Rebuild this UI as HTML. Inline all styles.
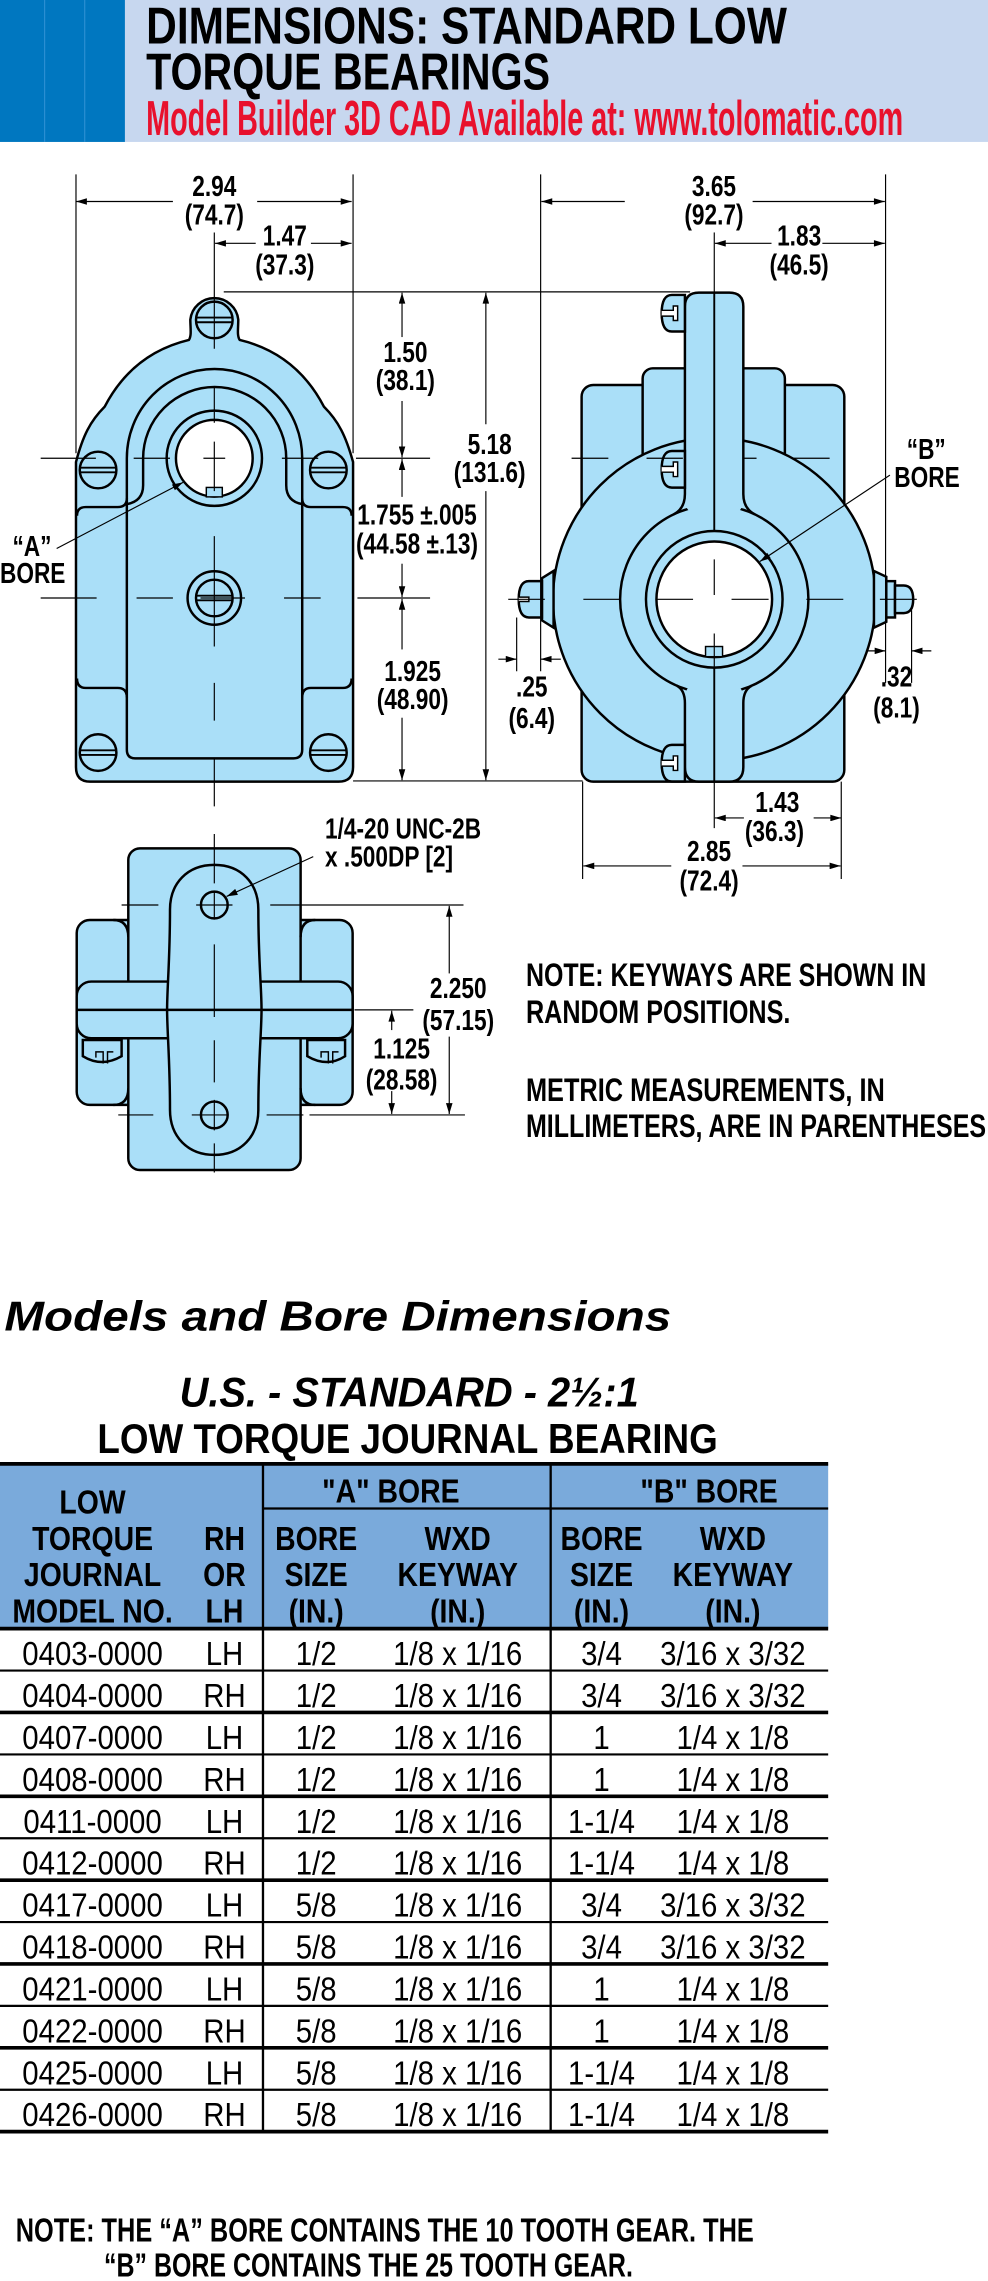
<!DOCTYPE html>
<html><head><meta charset="utf-8"><style>
html,body{margin:0;padding:0;background:#fff}
svg{display:block}
text{font-family:"Liberation Sans",Arial,sans-serif}
.b{font-weight:bold}
.d{font-weight:bold;font-size:19.5px}
.h{font-weight:bold;font-size:23px}
.r{font-size:23px}
.o{fill:#aadff8;stroke:#000;stroke-width:1.7}
.s{fill:none;stroke:#000;stroke-width:1.7}
.t{fill:none;stroke:#000;stroke-width:0.8}
.dm{fill:none;stroke:#000;stroke-width:0.8;marker-end:url(#a)}
</style></head><body>
<svg width="988" height="2281" viewBox="0 0 680 1570" preserveAspectRatio="none" xmlns="http://www.w3.org/2000/svg">
<defs>
<marker id="a" viewBox="0 0 10 6" refX="10" refY="3" markerWidth="8" markerHeight="4.5" orient="auto" markerUnits="userSpaceOnUse"><path d="M0,0 L10,3 L0,6 Z" fill="#000"/></marker>
<g id="scr"><circle r="12.6" class="o"/><line x1="-12" y1="-1.6" x2="12" y2="-1.6" stroke="#000" stroke-width="1.3"/><line x1="-12" y1="1.6" x2="12" y2="1.6" stroke="#000" stroke-width="1.3"/></g>
<g id="bs"><path d="M16 -12.6 L7 -12.6 Q0 -12.6 0 0 Q0 12.6 7 12.6 L16 12.6 Z" class="o"/><path d="M0 -2 L8 -2 L8 -5 L11 -5 L11 5 L8 5 L8 2 L0 2" fill="#fff" stroke="#000" stroke-width="1"/></g>
</defs>

<!-- header -->
<rect x="0" y="0" width="86" height="97.7" fill="#0077c0"/>
<line x1="30.7" y1="0" x2="30.7" y2="97.7" stroke="#2b8fd2" stroke-width="0.8"/>
<line x1="58.3" y1="0" x2="58.3" y2="97.7" stroke="#2b8fd2" stroke-width="0.8"/>
<rect x="86" y="0" width="594" height="97.7" fill="#c7d7ef"/>
<text x="100.6" y="29.9" class="b" font-size="35.5" textLength="441" lengthAdjust="spacingAndGlyphs">DIMENSIONS: STANDARD LOW</text>
<text x="100.6" y="61.5" class="b" font-size="35.5" textLength="278" lengthAdjust="spacingAndGlyphs">TORQUE BEARINGS</text>
<text x="100.6" y="93" class="b" font-size="34" fill="#e8112d" textLength="521" lengthAdjust="spacingAndGlyphs">Model Builder 3D CAD Available at: www.tolomatic.com</text>

<!-- LEFT VIEW -->
<path class="o" d="M52.3 318 C57 300 62 290 72 280 C85 255 105 240 130 234 C132 231 131 226 131 220 A16.6 16.6 0 0 1 164 220 C164 226 163 231 165 234 C190 240 210 255 223 280 C233 290 238 300 243 318 L243 528 Q243 538 233 538 L62 538 Q52.3 538 52.3 528 Z"/>
<path class="s" d="M53 355 Q53 349 59 349 L81 349 Q87.3 349 87.3 343"/>
<path class="s" d="M53 467 Q53 473.5 59 473.5 L81 473.5 Q87.3 473.5 87.3 480"/>
<path class="s" d="M242 355 Q242 349 236 349 L214 349 Q208 349 208 343"/>
<path class="s" d="M242 467 Q242 473.5 236 473.5 L214 473.5 Q208 473.5 208 480"/>
<path class="s" d="M87.3 516 L87.3 315.4 A60.35 61.4 0 0 1 208 315.4 L208 516 Q208 522 202 522 L93 522 Q87.3 522 87.3 516 Z"/>
<path class="s" d="M87.3 347 Q98.5 345 98.5 334 L98.5 315.4 A49.25 49 0 0 1 197 315.4 L197 334 Q197 345 208 347"/>
<circle cx="147.5" cy="315.4" r="32.8" class="o"/>
<circle cx="147.5" cy="315.4" r="26.4" fill="#fff" stroke="#000" stroke-width="1.7"/>
<rect x="142" y="335.5" width="11" height="6.5" fill="#aadff8" stroke="#000" stroke-width="1"/>
<use href="#scr" x="147.5" y="220.2"/>
<use href="#scr" x="67.5" y="323.5"/>
<use href="#scr" x="226" y="323.5"/>
<use href="#scr" x="67.5" y="518"/>
<use href="#scr" x="226" y="518"/>
<circle cx="147.5" cy="411.6" r="18.4" class="o"/>
<use href="#scr" x="147.5" y="411.6"/>
<!-- left centerlines -->
<g class="t">
<path d="M28 315.4H66M92 315.4H117M140 315.4H155M194 315.4H219M245 315.4H296"/>
<path d="M28 411.6H66.5M94 411.6H119M138 411.6H168.6M195.5 411.6H220.7M246 411.6H296"/>
<path d="M147.5 160V240M147.5 267V291M147.5 304V338M147.5 369V445M147.5 470V496M147.5 522V555"/>
<path d="M52.3 120V312M243 120V312"/>
<path d="M154 200.9H475"/>
<path d="M243 537.5H401"/>
</g>
<!-- left dims -->
<line class="dm" x1="119" y1="138.7" x2="52.3" y2="138.7"/>
<line class="dm" x1="177" y1="138.7" x2="242" y2="138.7"/>
<text class="d" text-anchor="middle" transform="translate(147.5 135) scale(.8 1)">2.94</text>
<text class="d" text-anchor="middle" transform="translate(147.5 154.5) scale(.8 1)">(74.7)</text>
<line class="dm" x1="176" y1="167.5" x2="148" y2="167.5"/>
<line class="dm" x1="214" y1="167.5" x2="242" y2="167.5"/>
<text class="d" text-anchor="middle" transform="translate(196 169) scale(.8 1)">1.47</text>
<text class="d" text-anchor="middle" transform="translate(196 189) scale(.8 1)">(37.3)</text>
<line class="dm" x1="276.7" y1="232" x2="276.7" y2="201.5"/>
<line class="dm" x1="276.7" y1="276" x2="276.7" y2="314.8"/>
<text class="d" text-anchor="middle" transform="translate(279 249.3) scale(.8 1)">1.50</text>
<text class="d" text-anchor="middle" transform="translate(279 268.6) scale(.8 1)">(38.1)</text>
<line class="dm" x1="276.7" y1="342" x2="276.7" y2="316"/>
<line class="dm" x1="276.7" y1="388" x2="276.7" y2="411"/>
<text class="d" text-anchor="middle" transform="translate(287 361) scale(.8 1)">1.755 ±.005</text>
<text class="d" text-anchor="middle" transform="translate(287 381) scale(.8 1)">(44.58 ±.13)</text>
<line class="dm" x1="276.7" y1="447" x2="276.7" y2="412.2"/>
<line class="dm" x1="276.7" y1="494" x2="276.7" y2="537"/>
<text class="d" text-anchor="middle" transform="translate(284 468.7) scale(.8 1)">1.925</text>
<text class="d" text-anchor="middle" transform="translate(284 488) scale(.8 1)">(48.90)</text>
<line class="dm" x1="334.4" y1="292" x2="334.4" y2="201.5"/>
<line class="dm" x1="334.4" y1="338" x2="334.4" y2="537"/>
<text class="d" text-anchor="middle" transform="translate(337 312.5) scale(.8 1)">5.18</text>
<text class="d" text-anchor="middle" transform="translate(337 331.8) scale(.8 1)">(131.6)</text>
<text class="d" text-anchor="middle" transform="translate(22 382.8) scale(.8 1)">“A”</text>
<text class="d" text-anchor="middle" transform="translate(22.5 401.4) scale(.8 1)">BORE</text>
<line class="dm" x1="39" y1="377.5" x2="126" y2="332"/>

<!-- RIGHT VIEW -->
<rect x="400.3" y="265" width="180.8" height="273" rx="8" class="o"/>
<rect x="442.3" y="253.5" width="97.9" height="120" rx="7" class="o"/>
<circle cx="491.6" cy="412.5" r="111" class="o"/>
<circle cx="491.6" cy="412.5" r="64.8" class="o"/>
<rect x="471.4" y="201.4" width="40.2" height="153" rx="9.6" fill="#aadff8"/>
<path class="s" d="M463.7 354 Q471.4 350 471.4 340 L471.4 211 Q471.4 201.4 481 201.4 L502 201.4 Q511.6 201.4 511.6 211 L511.6 340 Q511.6 350 519.5 354"/>
<rect x="471.4" y="470" width="40.2" height="68" rx="9.6" fill="#aadff8"/>
<path class="s" d="M465.9 472 Q471.4 475 471.4 484 L471.4 528 Q471.4 538 481 538 L502 538 Q511.6 538 511.6 528 L511.6 484 Q511.6 475 517.3 472"/>
<line x1="491.6" y1="201.4" x2="491.6" y2="538" stroke="#000" stroke-width="1.3"/>
<circle cx="491.6" cy="412.5" r="47" class="o"/>
<circle cx="491.6" cy="412.5" r="39.8" fill="#fff" stroke="#000" stroke-width="1.7"/>
<rect x="485.6" y="445" width="11.7" height="7" fill="#aadff8" stroke="#000" stroke-width="1"/>
<use href="#bs" x="455.4" y="215.6"/>
<use href="#bs" x="455.4" y="323"/>
<use href="#bs" x="455.4" y="525.3"/>
<path class="o" d="M381 393 L373 398 L373 427 L381 432 Z"/>
<path class="o" d="M373 400 L364 400 Q357 400 357 412.5 Q357 425 364 425 L373 425 Z"/>
<path d="M357 411 L364 411 L364 414 L357 414" fill="#fff" stroke="#000" stroke-width="1"/>
<path class="o" d="M601.5 393 L610 397 L610 428 L601.5 432 Z"/>
<rect x="610" y="400" width="6" height="25" class="o"/>
<path class="o" d="M616 403 L622 403 Q628.5 403 628.5 412.5 Q628.5 422 622 422 L616 422 Z"/>
<g class="t">
<path d="M393.4 315.4H418.7M445 315.4H470M512 315.4H520.7M546 315.4H571"/>
<path d="M349.8 412.5H375M401.5 412.5H427M452 412.5H477M503.5 412.5H529M555 412.5H580.4M605.6 412.5H631"/>
<path d="M491.6 385V409.5M491.6 436V460"/>
<path d="M372.1 120V462M609.5 120V470M355.6 425V462M627.4 420V470"/>
<path d="M491.6 160V201"/>
<path d="M401 538V605M579 538V605M491.6 538V570"/>
</g>
<line class="dm" x1="430" y1="138.7" x2="372.6" y2="138.7"/>
<line class="dm" x1="518" y1="138.7" x2="609" y2="138.7"/>
<text class="d" text-anchor="middle" transform="translate(491.4 135) scale(.8 1)">3.65</text>
<text class="d" text-anchor="middle" transform="translate(491.4 154.5) scale(.8 1)">(92.7)</text>
<line class="dm" x1="531" y1="167.5" x2="492" y2="167.5"/>
<line class="dm" x1="566" y1="167.5" x2="609" y2="167.5"/>
<text class="d" text-anchor="middle" transform="translate(550 169) scale(.8 1)">1.83</text>
<text class="d" text-anchor="middle" transform="translate(550 189) scale(.8 1)">(46.5)</text>
<line class="dm" x1="343" y1="453.7" x2="355.6" y2="453.7"/>
<line class="dm" x1="386" y1="453.7" x2="372.1" y2="453.7"/>
<text class="d" text-anchor="middle" transform="translate(366 479.5) scale(.8 1)">.25</text>
<text class="d" text-anchor="middle" transform="translate(366 501) scale(.8 1)">(6.4)</text>
<line class="dm" x1="596" y1="448" x2="609.5" y2="448"/>
<line class="dm" x1="641" y1="448" x2="627.4" y2="448"/>
<text class="d" text-anchor="middle" transform="translate(617 472.5) scale(.8 1)">.32</text>
<text class="d" text-anchor="middle" transform="translate(617 494) scale(.8 1)">(8.1)</text>
<text class="d" text-anchor="middle" transform="translate(637.5 316) scale(.8 1)">“B”</text>
<text class="d" text-anchor="middle" transform="translate(638 335.3) scale(.8 1)">BORE</text>
<line class="dm" x1="612.5" y1="327" x2="523" y2="386.5"/>
<line class="dm" x1="512" y1="563" x2="492" y2="563"/>
<line class="dm" x1="560" y1="563" x2="579" y2="563"/>
<text class="d" text-anchor="middle" transform="translate(535 559) scale(.8 1)">1.43</text>
<text class="d" text-anchor="middle" transform="translate(533 578.7) scale(.8 1)">(36.3)</text>
<line class="dm" x1="462" y1="596" x2="401.5" y2="596"/>
<line class="dm" x1="511" y1="596" x2="578.5" y2="596"/>
<text class="d" text-anchor="middle" transform="translate(488 592.6) scale(.8 1)">2.85</text>
<text class="d" text-anchor="middle" transform="translate(488 613) scale(.8 1)">(72.4)</text>

<!-- BOTTOM VIEW -->
<rect x="52.8" y="633.2" width="189.9" height="127.3" rx="9" class="o"/>
<rect x="88.3" y="583.9" width="118.6" height="221.4" rx="8" class="o"/>
<path class="s" d="M88.3 645 Q88.3 633.2 78 633.2 M206.9 645 Q206.9 633.2 217 633.2 M88.3 749 Q88.3 760.5 78 760.5 M206.9 749 Q206.9 760.5 217 760.5"/>
<rect x="52.8" y="675.6" width="189.9" height="39" rx="10" class="o"/>
<path class="o" d="M57 715.8 L57 727 Q70 735 83.7 727 L83.7 715.8 Z"/>
<path class="o" d="M211.5 715.8 L211.5 727 Q225 735 237.5 727 L237.5 715.8 Z"/>
<path class="s" style="stroke-width:1" d="M66 728 V724 H71 V732 M74 732 V724 H78 M221 728 V724 H226 V732 M229 732 V724 H233"/>
<path class="o" d="M147.5 595.3 C166 595.3 177.8 608 177.8 626 C177.8 660 180 680 180 695 C180 710 177.8 730 177.8 764 C177.8 782 166 794.9 147.5 794.9 C129 794.9 117 782 117 764 C117 730 115 710 115 695 C115 680 117 660 117 626 C117 608 129 595.3 147.5 595.3 Z"/>
<line x1="52.8" y1="695.1" x2="242.7" y2="695.1" stroke="#000" stroke-width="1.7"/>
<circle cx="147.5" cy="622.9" r="9.2" class="o"/>
<circle cx="147.5" cy="767.4" r="9.2" class="o"/>
<g class="t">
<path d="M147.5 574V608M147.5 614V633M147.5 650V700M147.5 716V745M147.5 757V778M147.5 787V807"/>
<path d="M83.7 622.9H109M135 622.9H160M186 622.9H319"/>
<path d="M81.4 767.4H105.5M132 767.4H157M183.5 767.4H208.8M213 767.4H320"/>
<path d="M244 695.1H284.5"/>
</g>
<text class="d" transform="translate(223.7 577) scale(.8 1)">1/4-20 UNC-2B</text>
<text class="d" transform="translate(223.7 596.5) scale(.8 1)">x .500DP [2]</text>
<line class="dm" x1="215.6" y1="589.6" x2="156" y2="617"/>
<line class="dm" x1="309.2" y1="670" x2="309.2" y2="623.5"/>
<line class="dm" x1="309.2" y1="713.5" x2="309.2" y2="766.8"/>
<text class="d" text-anchor="middle" transform="translate(315.4 687) scale(.8 1)">2.250</text>
<text class="d" text-anchor="middle" transform="translate(315.4 708.9) scale(.8 1)">(57.15)</text>
<line class="dm" x1="269.6" y1="709" x2="269.6" y2="695.7"/>
<line class="dm" x1="269.6" y1="751" x2="269.6" y2="766.8"/>
<text class="d" text-anchor="middle" transform="translate(276.4 728.4) scale(.8 1)">1.125</text>
<text class="d" text-anchor="middle" transform="translate(276.4 750) scale(.8 1)">(28.58)</text>

<!-- notes -->
<text x="362" y="678.6" class="b" font-size="22" textLength="275.5" lengthAdjust="spacingAndGlyphs">NOTE: KEYWAYS ARE SHOWN IN</text>
<text x="362" y="704" class="b" font-size="22" textLength="182" lengthAdjust="spacingAndGlyphs">RANDOM POSITIONS.</text>
<text x="362" y="757.8" class="b" font-size="22" textLength="247" lengthAdjust="spacingAndGlyphs">METRIC MEASUREMENTS, IN</text>
<text x="362" y="782.6" class="b" font-size="22" textLength="316.7" lengthAdjust="spacingAndGlyphs">MILLIMETERS, ARE IN PARENTHESES</text>

<text x="3" y="915.8" class="b" font-style="italic" font-size="29" textLength="459" lengthAdjust="spacingAndGlyphs">Models and Bore Dimensions</text>
<text x="123.6" y="968" class="b" font-style="italic" font-size="29" textLength="316" lengthAdjust="spacingAndGlyphs">U.S. - STANDARD - 2½:1</text>
<text x="67" y="1000" class="b" font-size="29" textLength="427" lengthAdjust="spacingAndGlyphs">LOW TORQUE JOURNAL BEARING</text>

<!-- TABLE -->
<rect x="0" y="1007.6" width="570" height="113.4" fill="#7aaadb"/>
<line x1="0" y1="1007.6" x2="570" y2="1007.6" stroke="#000" stroke-width="2.6"/>
<line x1="181" y1="1038.3" x2="570" y2="1038.3" stroke="#000" stroke-width="1.6"/>
<line x1="0" y1="1121" x2="570" y2="1121" stroke="#000" stroke-width="2.6"/>
<line x1="181" y1="1007.6" x2="181" y2="1467.2" stroke="#000" stroke-width="1.6"/>
<line x1="379" y1="1007.6" x2="379" y2="1467.2" stroke="#000" stroke-width="1.6"/>
<g class="h" text-anchor="middle">
<text transform="translate(269 1034.3) scale(.85 1)">"A" BORE</text>
<text transform="translate(488 1034.3) scale(.85 1)">"B" BORE</text>
<text transform="translate(63.7 1041.6) scale(.85 1)">LOW</text>
<text transform="translate(63.7 1066.8) scale(.85 1)">TORQUE</text>
<text transform="translate(63.7 1091.5) scale(.85 1)">JOURNAL</text>
<text transform="translate(63.7 1116.6) scale(.85 1)">MODEL NO.</text>
<text transform="translate(154.5 1066.8) scale(.85 1)">RH</text>
<text transform="translate(154.5 1091.5) scale(.85 1)">OR</text>
<text transform="translate(154.5 1116.6) scale(.85 1)">LH</text>
<text transform="translate(217.6 1066.8) scale(.85 1)">BORE</text>
<text transform="translate(217.6 1091.5) scale(.85 1)">SIZE</text>
<text transform="translate(217.6 1116.6) scale(.85 1)">(IN.)</text>
<text transform="translate(315 1066.8) scale(.85 1)">WXD</text>
<text transform="translate(315 1091.5) scale(.85 1)">KEYWAY</text>
<text transform="translate(315 1116.6) scale(.85 1)">(IN.)</text>
<text transform="translate(414 1066.8) scale(.85 1)">BORE</text>
<text transform="translate(414 1091.5) scale(.85 1)">SIZE</text>
<text transform="translate(414 1116.6) scale(.85 1)">(IN.)</text>
<text transform="translate(504.4 1066.8) scale(.85 1)">WXD</text>
<text transform="translate(504.4 1091.5) scale(.85 1)">KEYWAY</text>
<text transform="translate(504.4 1116.6) scale(.85 1)">(IN.)</text>
</g>
<g stroke="#000">
<line x1="0" x2="570" y1="1149.85" y2="1149.85" stroke-width="1.5"/>
<line x1="0" x2="570" y1="1178.7" y2="1178.7" stroke-width="2.5"/>
<line x1="0" x2="570" y1="1207.55" y2="1207.55" stroke-width="1.5"/>
<line x1="0" x2="570" y1="1236.4" y2="1236.4" stroke-width="2.5"/>
<line x1="0" x2="570" y1="1265.25" y2="1265.25" stroke-width="1.5"/>
<line x1="0" x2="570" y1="1294.1" y2="1294.1" stroke-width="2.5"/>
<line x1="0" x2="570" y1="1322.95" y2="1322.95" stroke-width="1.5"/>
<line x1="0" x2="570" y1="1351.8" y2="1351.8" stroke-width="2.5"/>
<line x1="0" x2="570" y1="1380.65" y2="1380.65" stroke-width="1.5"/>
<line x1="0" x2="570" y1="1409.5" y2="1409.5" stroke-width="2.5"/>
<line x1="0" x2="570" y1="1438.35" y2="1438.35" stroke-width="1.5"/>
<line x1="0" x2="570" y1="1467.2" y2="1467.2" stroke-width="2.6"/>
</g>
<g class="r" text-anchor="middle">
<g transform="translate(0 1146.1)"><text transform="translate(63.7 0) scale(.88 1)">0403-0000</text><text transform="translate(154.5 0) scale(.88 1)">LH</text><text transform="translate(217.6 0) scale(.88 1)">1/2</text><text transform="translate(315 0) scale(.88 1)">1/8 x 1/16</text><text transform="translate(414 0) scale(.88 1)">3/4</text><text transform="translate(504.4 0) scale(.88 1)">3/16 x 3/32</text></g>
<g transform="translate(0 1174.95)"><text transform="translate(63.7 0) scale(.88 1)">0404-0000</text><text transform="translate(154.5 0) scale(.88 1)">RH</text><text transform="translate(217.6 0) scale(.88 1)">1/2</text><text transform="translate(315 0) scale(.88 1)">1/8 x 1/16</text><text transform="translate(414 0) scale(.88 1)">3/4</text><text transform="translate(504.4 0) scale(.88 1)">3/16 x 3/32</text></g>
<g transform="translate(0 1203.8)"><text transform="translate(63.7 0) scale(.88 1)">0407-0000</text><text transform="translate(154.5 0) scale(.88 1)">LH</text><text transform="translate(217.6 0) scale(.88 1)">1/2</text><text transform="translate(315 0) scale(.88 1)">1/8 x 1/16</text><text transform="translate(414 0) scale(.88 1)">1</text><text transform="translate(504.4 0) scale(.88 1)">1/4 x 1/8</text></g>
<g transform="translate(0 1232.65)"><text transform="translate(63.7 0) scale(.88 1)">0408-0000</text><text transform="translate(154.5 0) scale(.88 1)">RH</text><text transform="translate(217.6 0) scale(.88 1)">1/2</text><text transform="translate(315 0) scale(.88 1)">1/8 x 1/16</text><text transform="translate(414 0) scale(.88 1)">1</text><text transform="translate(504.4 0) scale(.88 1)">1/4 x 1/8</text></g>
<g transform="translate(0 1261.5)"><text transform="translate(63.7 0) scale(.88 1)">0411-0000</text><text transform="translate(154.5 0) scale(.88 1)">LH</text><text transform="translate(217.6 0) scale(.88 1)">1/2</text><text transform="translate(315 0) scale(.88 1)">1/8 x 1/16</text><text transform="translate(414 0) scale(.88 1)">1-1/4</text><text transform="translate(504.4 0) scale(.88 1)">1/4 x 1/8</text></g>
<g transform="translate(0 1290.35)"><text transform="translate(63.7 0) scale(.88 1)">0412-0000</text><text transform="translate(154.5 0) scale(.88 1)">RH</text><text transform="translate(217.6 0) scale(.88 1)">1/2</text><text transform="translate(315 0) scale(.88 1)">1/8 x 1/16</text><text transform="translate(414 0) scale(.88 1)">1-1/4</text><text transform="translate(504.4 0) scale(.88 1)">1/4 x 1/8</text></g>
<g transform="translate(0 1319.2)"><text transform="translate(63.7 0) scale(.88 1)">0417-0000</text><text transform="translate(154.5 0) scale(.88 1)">LH</text><text transform="translate(217.6 0) scale(.88 1)">5/8</text><text transform="translate(315 0) scale(.88 1)">1/8 x 1/16</text><text transform="translate(414 0) scale(.88 1)">3/4</text><text transform="translate(504.4 0) scale(.88 1)">3/16 x 3/32</text></g>
<g transform="translate(0 1348.05)"><text transform="translate(63.7 0) scale(.88 1)">0418-0000</text><text transform="translate(154.5 0) scale(.88 1)">RH</text><text transform="translate(217.6 0) scale(.88 1)">5/8</text><text transform="translate(315 0) scale(.88 1)">1/8 x 1/16</text><text transform="translate(414 0) scale(.88 1)">3/4</text><text transform="translate(504.4 0) scale(.88 1)">3/16 x 3/32</text></g>
<g transform="translate(0 1376.9)"><text transform="translate(63.7 0) scale(.88 1)">0421-0000</text><text transform="translate(154.5 0) scale(.88 1)">LH</text><text transform="translate(217.6 0) scale(.88 1)">5/8</text><text transform="translate(315 0) scale(.88 1)">1/8 x 1/16</text><text transform="translate(414 0) scale(.88 1)">1</text><text transform="translate(504.4 0) scale(.88 1)">1/4 x 1/8</text></g>
<g transform="translate(0 1405.75)"><text transform="translate(63.7 0) scale(.88 1)">0422-0000</text><text transform="translate(154.5 0) scale(.88 1)">RH</text><text transform="translate(217.6 0) scale(.88 1)">5/8</text><text transform="translate(315 0) scale(.88 1)">1/8 x 1/16</text><text transform="translate(414 0) scale(.88 1)">1</text><text transform="translate(504.4 0) scale(.88 1)">1/4 x 1/8</text></g>
<g transform="translate(0 1434.6)"><text transform="translate(63.7 0) scale(.88 1)">0425-0000</text><text transform="translate(154.5 0) scale(.88 1)">LH</text><text transform="translate(217.6 0) scale(.88 1)">5/8</text><text transform="translate(315 0) scale(.88 1)">1/8 x 1/16</text><text transform="translate(414 0) scale(.88 1)">1-1/4</text><text transform="translate(504.4 0) scale(.88 1)">1/4 x 1/8</text></g>
<g transform="translate(0 1463.45)"><text transform="translate(63.7 0) scale(.88 1)">0426-0000</text><text transform="translate(154.5 0) scale(.88 1)">RH</text><text transform="translate(217.6 0) scale(.88 1)">5/8</text><text transform="translate(315 0) scale(.88 1)">1/8 x 1/16</text><text transform="translate(414 0) scale(.88 1)">1-1/4</text><text transform="translate(504.4 0) scale(.88 1)">1/4 x 1/8</text></g>
</g>

<text x="10.8" y="1542.9" class="b" font-size="23" textLength="508" lengthAdjust="spacingAndGlyphs">NOTE:  THE “A” BORE CONTAINS THE 10 TOOTH GEAR.  THE</text>
<text x="71.6" y="1567" class="b" font-size="23" textLength="364" lengthAdjust="spacingAndGlyphs">“B” BORE CONTAINS THE 25 TOOTH GEAR.</text>
</svg>
</body></html>
